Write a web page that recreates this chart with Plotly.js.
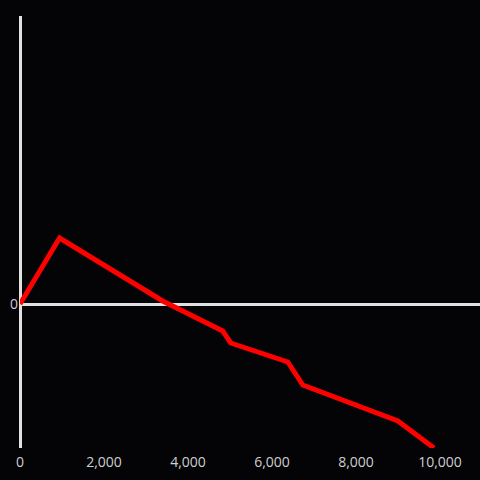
<!DOCTYPE html>
<html>
<head>
<meta charset="utf-8">
<script src="https://cdn.plot.ly/plotly-3.0.1.min.js"></script>
<style>
html,body{margin:0;padding:0;background:#040306;}
#chart{width:480px;height:480px;}
</style>
</head>
<body>
<div id="chart"></div>
<script>
const xValues = [0, 942, 3397, 4827, 5018, 6377, 6734, 8999, 9857];
const yValues = [0, 66, 3, -27, -39, -58, -81, -117, -144];
const xTickVals = [0, 2000, 4000, 6000, 8000, 10000];
const xTickText = ['0', '2,000', '4,000', '6,000', '8,000', '10,000'];
const yTickVals = [0];
const yTickText = ['0'];

const trace = {
  x: xValues,
  y: yValues,
  type: 'scatter',
  mode: 'lines',
  line: {color: '#ff0000', width: 5},
  hoverinfo: 'none'
};

const layout = {
  width: 480,
  height: 480,
  paper_bgcolor: '#040306',
  plot_bgcolor: '#040306',
  margin: {l: 20, r: 0, t: 16, b: 32},
  showlegend: false,
  font: {family: 'Open Sans, sans-serif', size: 14, color: '#cfcfcf'},
  xaxis: {
    range: [0, 10953],
    tickvals: xTickVals,
    ticktext: xTickText,
    showgrid: false,
    zeroline: true,
    zerolinecolor: '#e0e0e0',
    zerolinewidth: 3,
    showline: false,
    ticks: '',
    ticklabelstandoff: 4,
    fixedrange: true
  },
  yaxis: {
    range: [-144, 288],
    tickvals: yTickVals,
    ticktext: yTickText,
    showgrid: false,
    zeroline: true,
    zerolinecolor: '#e0e0e0',
    zerolinewidth: 3,
    showline: false,
    ticks: '',
    ticklabelstandoff: 1,
    fixedrange: true
  }
};

Plotly.newPlot('chart', [trace], layout, {displayModeBar: false, staticPlot: true});
</script>
</body>
</html>
